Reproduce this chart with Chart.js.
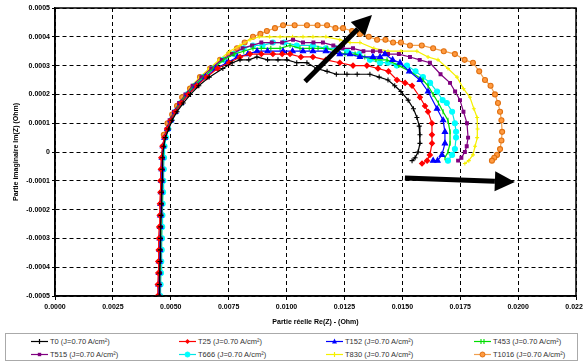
<!DOCTYPE html>
<html>
<head>
<meta charset="utf-8">
<script src="https://cdn.jsdelivr.net/npm/chart.js@4"></script>
<style>
  body { margin: 0; background: #fff; font-family: 'Liberation Sans', Arial, sans-serif; }
  #wrap { position: relative; width: 583px; height: 362px; }
  #chart { position: absolute; left: 0; top: 0; }
  #legend { position: absolute; left: 5px; top: 333px; width: 571px; height: 26px; border: 1px solid #aaa; }
  .item { position: absolute; height: 10px; font-size: 7.5px; color: #333; white-space: nowrap; display: flex; align-items: center; }
  .item svg { margin-right: 1px; }
</style>
</head>
<body>
<div id="wrap">
  <canvas id="chart" width="583" height="330"></canvas>
  <div id="legend"></div>
</div>
<script>
// Axis ticks
const X_MIN = 0, X_MAX = 0.0225, X_STEP = 0.0025;
const Y_MIN = -0.0005, Y_MAX = 0.0005, Y_STEP = 0.0001;

const seriesNames = ['T0 (J=0.70 A/cm²)', 'T25 (J=0.70 A/cm²)', 'T152 (J=0.70 A/cm²)', 'T453 (J=0.70 A/cm²)',
                     'T515 (J=0.70 A/cm²)', 'T666 (J=0.70 A/cm²)', 'T830 (J=0.70 A/cm²)', 'T1016 (J=0.70 A/cm²)'];

// [Re(Z), Im(Z)]
const t0 = [[0.00450,-0.0005],[0.00451,-0.00046],[0.00453,-0.00042],[0.00454,-0.00038],[0.00455,-0.00034],[0.00456,-0.0003],[0.00457,-0.00026],[0.00458,-0.00022],[0.00460,-0.00018],[0.00461,-0.00014],[0.00463,-0.0001],[0.00464,-0.00006],[0.00465,-0.00002],
  [0.00470,0.00002],[0.00477,0.00005],[0.00491,0.00008],[0.00506,0.00011],[0.00527,0.00014],[0.00554,0.00017],[0.00585,0.0002],[0.00621,0.00023],[0.00666,0.00026],[0.00725,0.00029],[0.00765,0.00031],[0.00799,0.00032],[0.00837,0.00032],[0.00872,0.00033],[0.00918,0.00032],[0.00963,0.00032],[0.01002,0.00032],[0.01044,0.00031],[0.01088,0.00031],[0.01130,0.00029],[0.01175,0.00028],[0.01215,0.00027],[0.01261,0.00027],[0.01305,0.00027],[0.01360,0.00027],[0.01400,0.00026],[0.01438,0.00025],[0.01467,0.00023],[0.01494,0.00021],[0.01525,0.00018],[0.01548,0.00015],[0.01563,0.00012],[0.01573,0.00009],[0.01576,0.00006],[0.01576,0.00003],[0.01568,0.0],[0.01555,-0.00002],[0.01542,-0.00003]];
const t25 = [[0.00443,-0.0005],[0.00444,-0.00046],[0.00446,-0.00042],[0.00446,-0.00038],[0.00448,-0.00034],[0.00449,-0.0003],[0.00450,-0.00026],[0.00452,-0.00022],[0.00453,-0.00018],[0.00455,-0.00014],[0.00455,-0.0001],[0.00457,-0.00006],[0.00459,-0.00002],
  [0.00464,0.00002],[0.00472,0.00005],[0.00484,0.00008],[0.00500,0.00011],[0.00520,0.00014],[0.00545,0.00017],[0.00576,0.0002],[0.00612,0.00023],[0.00655,0.00026],[0.00702,0.00029],[0.00752,0.00031],[0.00799,0.00033],[0.00842,0.00034],[0.00891,0.00034],[0.00941,0.00034],[0.00981,0.00034],[0.01015,0.00034],[0.01062,0.00033],[0.01114,0.00033],[0.01170,0.00032],[0.01230,0.00031],[0.01287,0.0003],[0.01347,0.0003],[0.01395,0.00029],[0.01440,0.00028],[0.01477,0.00025],[0.01512,0.00024],[0.01542,0.00023],[0.01576,0.00019],[0.01598,0.00016],[0.01611,0.00014],[0.01628,0.0001],[0.01628,0.00006],[0.01628,0.00003],[0.01619,-0.00001],[0.01607,-0.00003],[0.01585,-0.00004]];
const t152 = [[0.00446,-0.0005],[0.00447,-0.00046],[0.00449,-0.00042],[0.00450,-0.00038],[0.00452,-0.00034],[0.00453,-0.0003],[0.00454,-0.00026],[0.00455,-0.00022],[0.00456,-0.00018],[0.00458,-0.00014],[0.00459,-0.0001],[0.00461,-0.00006],[0.00462,-0.00002],
  [0.00466,0.00002],[0.00473,0.00005],[0.00486,0.00008],[0.00500,0.00011],[0.00520,0.00014],[0.00545,0.00017],[0.00574,0.0002],[0.00608,0.00023],[0.00650,0.00026],[0.00695,0.00029],[0.00743,0.00031],[0.00788,0.00033],[0.00833,0.00034],[0.00873,0.00035],[0.00918,0.00035],[0.00985,0.00035],[0.01026,0.00035],[0.01071,0.00035],[0.01114,0.00035],[0.01170,0.00035],[0.01230,0.00034],[0.01274,0.00034],[0.01317,0.00033],[0.01373,0.00033],[0.01404,0.00033],[0.01425,0.00034],[0.01458,0.00032],[0.01490,0.00031],[0.01530,0.00028],[0.01576,0.00025],[0.01611,0.00021],[0.01650,0.00015],[0.01676,0.00011],[0.01684,0.00007],[0.01684,0.00003],[0.01671,-0.00001],[0.01652,-0.00003],[0.01633,-0.00003]];
const t453 = [[0.00448,-0.0005],[0.00449,-0.00046],[0.00451,-0.00042],[0.00452,-0.00038],[0.00453,-0.00034],[0.00455,-0.0003],[0.00455,-0.00026],[0.00457,-0.00022],[0.00458,-0.00018],[0.00459,-0.00014],[0.00461,-0.0001],[0.00462,-0.00006],[0.00464,-0.00002],
  [0.00466,0.00002],[0.00473,0.00005],[0.00484,0.00008],[0.00498,0.00011],[0.00517,0.00014],[0.00540,0.00017],[0.00569,0.0002],[0.00601,0.00023],[0.00641,0.00026],[0.00684,0.00029],[0.00729,0.00032],[0.00774,0.00034],[0.00815,0.00035],[0.00855,0.00036],[0.00891,0.00036],[0.00932,0.00036],[0.00972,0.00036],[0.01015,0.00037],[0.01058,0.00036],[0.01098,0.00036],[0.01136,0.00036],[0.01175,0.00036],[0.01215,0.00035],[0.01252,0.00034],[0.01296,0.00034],[0.01338,0.00033],[0.01386,0.00032],[0.01434,0.00032],[0.01485,0.0003],[0.01533,0.00028],[0.01589,0.00025],[0.01611,0.00023],[0.01633,0.0002],[0.01656,0.00017],[0.01676,0.00014],[0.01697,0.00011],[0.01706,0.00007],[0.01706,0.00003],[0.01697,0.0],[0.01684,-0.00002]];
const t515 = [[0.00450,-0.0005],[0.00451,-0.00046],[0.00453,-0.00042],[0.00454,-0.00038],[0.00455,-0.00034],[0.00456,-0.0003],[0.00457,-0.00026],[0.00459,-0.00022],[0.00460,-0.00018],[0.00462,-0.00014],[0.00463,-0.0001],[0.00464,-0.00006],[0.00465,-0.00002],
  [0.00466,0.00002],[0.00472,0.00005],[0.00482,0.00008],[0.00495,0.00011],[0.00513,0.00014],[0.00536,0.00017],[0.00563,0.0002],[0.00594,0.00023],[0.00632,0.00026],[0.00675,0.00029],[0.00720,0.00032],[0.00765,0.00034],[0.00810,0.00036],[0.00851,0.00037],[0.00891,0.00038],[0.00936,0.00038],[0.00981,0.00038],[0.01028,0.00039],[0.01071,0.00038],[0.01116,0.00038],[0.01157,0.00038],[0.01202,0.00037],[0.01242,0.00036],[0.01287,0.00036],[0.01332,0.00035],[0.01373,0.00035],[0.01404,0.00035],[0.01438,0.00034],[0.01485,0.00034],[0.01533,0.00033],[0.01575,0.00032],[0.01619,0.00031],[0.01665,0.00027],[0.01706,0.00024],[0.01728,0.00021],[0.01749,0.00018],[0.01764,0.00014],[0.01779,0.0001],[0.01784,0.00005],[0.01778,0.00002],[0.01770,0.0],[0.01755,-0.00002],[0.01741,-0.00003]];
const t666 = [[0.00455,-0.0005],[0.00456,-0.00046],[0.00458,-0.00042],[0.00459,-0.00038],[0.00461,-0.00034],[0.00462,-0.0003],[0.00463,-0.00026],[0.00464,-0.00022],[0.00465,-0.00018],[0.00467,-0.00014],[0.00468,-0.0001],[0.00470,-0.00006],[0.00471,-0.00002],
  [0.00473,0.00002],[0.00479,0.00005],[0.00489,0.00008],[0.00502,0.00011],[0.00520,0.00014],[0.00543,0.00017],[0.00571,0.0002],[0.00603,0.00023],[0.00641,0.00026],[0.00682,0.00029],[0.00727,0.00032],[0.00772,0.00034],[0.00815,0.00036],[0.00855,0.00037],[0.00896,0.00037],[0.00941,0.00038],[0.00990,0.00038],[0.01044,0.00037],[0.01114,0.00037],[0.01170,0.00036],[0.01215,0.00036],[0.01261,0.00035],[0.01314,0.00034],[0.01360,0.00032],[0.01404,0.00031],[0.01438,0.00031],[0.01476,0.0003],[0.01520,0.0003],[0.01557,0.00028],[0.01589,0.00026],[0.01620,0.00024],[0.01650,0.00021],[0.01674,0.00018],[0.01692,0.00017],[0.01715,0.00014],[0.01727,0.0001],[0.01732,0.00007],[0.01732,0.00005],[0.01727,0.00001],[0.01715,-0.00001],[0.01697,-0.00003]];
const t830 = [[0.00453,-0.0005],[0.00454,-0.00046],[0.00455,-0.00042],[0.00456,-0.00038],[0.00458,-0.00034],[0.00459,-0.0003],[0.00460,-0.00026],[0.00462,-0.00022],[0.00463,-0.00018],[0.00464,-0.00014],[0.00465,-0.0001],[0.00467,-0.00006],[0.00468,-0.00002],
  [0.00468,0.00002],[0.00473,0.00005],[0.00484,0.00008],[0.00497,0.00011],[0.00514,0.00014],[0.00535,0.00017],[0.00560,0.0002],[0.00590,0.00023],[0.00626,0.00026],[0.00666,0.00029],[0.00709,0.00032],[0.00754,0.00035],[0.00799,0.00037],[0.00842,0.00039],[0.00882,0.0004],[0.00927,0.0004],[0.00972,0.0004],[0.01026,0.0004],[0.01071,0.0004],[0.01114,0.0004],[0.01170,0.0004],[0.01230,0.00039],[0.01274,0.00038],[0.01317,0.00038],[0.01377,0.00036],[0.01438,0.00035],[0.01494,0.00035],[0.01563,0.00035],[0.01611,0.00033],[0.01654,0.00032],[0.01697,0.00029],[0.01736,0.00026],[0.01764,0.00022],[0.01792,0.00019],[0.01809,0.00015],[0.01823,0.00012],[0.01825,0.00008],[0.01823,0.00005],[0.01814,0.00002],[0.01805,-0.00001],[0.01787,-0.00003],[0.01770,-0.00004]];
const t1016 = [[0.00452,-0.0005],[0.00453,-0.00046],[0.00455,-0.00042],[0.00455,-0.00038],[0.00457,-0.00034],[0.00458,-0.0003],[0.00459,-0.00026],[0.00461,-0.00022],[0.00462,-0.00018],[0.00464,-0.00014],[0.00464,-0.0001],[0.00466,-0.00006],[0.00467,-0.00002],
  [0.00468,0.00002],[0.00470,0.00006],[0.00486,0.0001],[0.00506,0.00013],[0.00527,0.00016],[0.00549,0.00019],[0.00583,0.00022],[0.00626,0.00026],[0.00670,0.00029],[0.00713,0.00032],[0.00752,0.00034],[0.00786,0.00036],[0.00819,0.00038],[0.00855,0.0004],[0.00887,0.00041],[0.00915,0.00042],[0.00950,0.00043],[0.00985,0.00044],[0.01035,0.00044],[0.01088,0.00044],[0.01134,0.00044],[0.01175,0.00044],[0.01211,0.00043],[0.01244,0.00043],[0.01283,0.00042],[0.01317,0.00041],[0.01355,0.0004],[0.01391,0.00039],[0.01427,0.00039],[0.01460,0.00038],[0.01494,0.00038],[0.01533,0.00037],[0.01584,0.00037],[0.01633,0.00036],[0.01679,0.00035],[0.01727,0.00034],[0.01769,0.00032],[0.01805,0.00031],[0.01832,0.00028],[0.01857,0.00025],[0.01881,0.00023],[0.01900,0.0002],[0.01913,0.00017],[0.01922,0.00014],[0.01928,0.00011],[0.01931,0.00007],[0.01928,0.00004],[0.01922,0.00001],[0.01909,-0.00001],[0.01897,-0.00002],[0.01887,-0.00003]];

// the two black arrows drawn over the plot (data units)
const arrowStarts = [[0.0108, 0.000245], [0.01511, -0.00009]];
const arrowTips = [[0.01369, 0.000476], [0.01986, -0.000104]];

const seriesData = [t0, t25, t152, t453, t515, t666, t830, t1016];
const lineColors = ['#000000', '#ff0000', '#0000ff', '#00dd00', '#800080', '#00e5e5', '#f5f000', '#f0a050'];
const markerColors = ['#000000', '#ff0000', '#0000ff', '#00dd00', '#800080', '#00ffff', '#f5f000', '#ff9a40'];
const markerStyles = ['cross', 'rectRot', 'triangle', 'line', 'rect', 'circle', 'cross', 'circle'];
const markerRot = [0, 0, 0, 90, 0, 0, 0, 0];
const markerSize = [2.5, 2.5, 3, 2.5, 2, 2.5, 2, 2.5];

const frameAndArrows = {
    id: 'frameAndArrows',
    afterDatasetsDraw(chart) {
        const { ctx, chartArea: a, scales: { x, y } } = chart;
        ctx.save();
        ctx.strokeStyle = '#000';
        ctx.lineWidth = 1.5;
        ctx.strokeRect(a.left, a.top, a.width, a.height);

        ctx.fillStyle = '#000';
        arrowStarts.forEach((s, i) => {
            const x0 = x.getPixelForValue(s[0]), y0 = y.getPixelForValue(s[1]);
            const x1 = x.getPixelForValue(arrowTips[i][0]), y1 = y.getPixelForValue(arrowTips[i][1]);
            const ang = Math.atan2(y1 - y0, x1 - x0);
            const head = 20, half = 10;
            const bx = x1 - head * Math.cos(ang), by = y1 - head * Math.sin(ang);
            ctx.lineWidth = 5;
            ctx.beginPath();
            ctx.moveTo(x0, y0);
            ctx.lineTo(bx, by);
            ctx.stroke();
            ctx.beginPath();
            ctx.moveTo(x1, y1);
            ctx.lineTo(bx + half * Math.sin(ang), by - half * Math.cos(ang));
            ctx.lineTo(bx - half * Math.sin(ang), by + half * Math.cos(ang));
            ctx.closePath();
            ctx.fill();
        });
        ctx.restore();
    }
};

const tickFont = { family: "'Liberation Sans', Arial, sans-serif", size: 7, weight: 'bold' };

new Chart(document.getElementById('chart'), {
    type: 'scatter',
    data: {
        datasets: seriesData.map((d, i) => ({
            label: seriesNames[i],
            data: d,
            showLine: true,
            borderColor: lineColors[i],
            borderWidth: 1.2,
            pointStyle: markerStyles[i],
            rotation: markerRot[i],
            pointRadius: markerSize[i],
            pointBackgroundColor: markerColors[i],
            pointBorderColor: i === 7 ? '#e07010' : markerColors[i],
            pointBorderWidth: 1.1
        }))
    },
    options: {
        responsive: false,
        animation: false,
        layout: { padding: { top: 8, right: 7, left: 0, bottom: 0 } },
        plugins: { legend: { display: false }, tooltip: { enabled: false } },
        scales: {
            x: {
                type: 'linear',
                min: X_MIN, max: X_MAX,
                ticks: { stepSize: X_STEP, color: '#000', font: tickFont, padding: 3, maxRotation: 0,
                         callback: v => v.toFixed(4) },
                grid: { color: '#000', lineWidth: 1, tickLength: 4 },
                border: { display: true, color: '#000', width: 1.5, dash: [4, 3] },
                title: { display: true, text: 'Partie réelle Re(Z) - (Ohm)', color: '#000', font: tickFont,
                         padding: { top: 0, bottom: 4 } },
                afterFit: s => { s.height = 34; s.paddingLeft = 0; s.paddingRight = 0; }
            },
            y: {
                min: Y_MIN, max: Y_MAX,
                ticks: { stepSize: Y_STEP, color: '#000', font: tickFont, padding: 2,
                         callback: v => Math.abs(v) < 1e-12 ? '0' : v.toFixed(4) },
                grid: { color: '#000', lineWidth: 1, tickLength: 3 },
                border: { display: true, color: '#000', width: 1.5, dash: [4, 3] },
                title: { display: true, text: 'Partie imaginaire Im(Z) (Ohm)', color: '#000', font: tickFont,
                         padding: { top: 12, bottom: 0 } },
                afterFit: s => { s.width = 55; s.paddingTop = 0; s.paddingBottom = 0; }
            }
        }
    },
    plugins: [frameAndArrows]
});

// Legend: 4 columns x 2 rows inside a framed box
function markerSvg(i) {
    const c = markerColors[i], lc = lineColors[i];
    let m = '';
    switch (markerStyles[i]) {
        case 'cross': m = `<path d="M8.5 6V11M6 8.5H11" stroke="${c}" stroke-width="1.2"/>`; break;
        case 'rectRot': m = `<path d="M8.5 6L11 8.5L8.5 11L6 8.5Z" fill="${c}"/>`; break;
        case 'triangle': m = `<path d="M8.5 5.5L11 10.5H6Z" fill="${c}"/>`; break;
        case 'line': m = `<path d="M7 6V11M10 6V11" stroke="${c}" stroke-width="1.1"/>`; break;
        case 'rect': m = `<rect x="6.8" y="6.8" width="3.4" height="3.4" fill="${c}"/>`; break;
        case 'circle': m = `<circle cx="8.5" cy="8.5" r="2.5" fill="${c}" stroke="${i === 7 ? '#e07010' : c}"/>`; break;
    }
    return `<svg width="18" height="17" viewBox="0 0 18 17"><line x1="0" y1="8.5" x2="17" y2="8.5" stroke="${lc}" stroke-width="1.2"/>${m}</svg>`;
}

const legendCols = [25, 173, 320, 468];
const legendRows = [2, 15];
const legend = document.getElementById('legend');
seriesNames.forEach((name, i) => {
    const el = document.createElement('div');
    el.className = 'item';
    el.style.left = legendCols[i % 4] + 'px';
    el.style.top = legendRows[Math.floor(i / 4)] + 'px';
    el.innerHTML = markerSvg(i) + '<span>' + name + '</span>';
    legend.appendChild(el);
});
</script>
</body>
</html>
